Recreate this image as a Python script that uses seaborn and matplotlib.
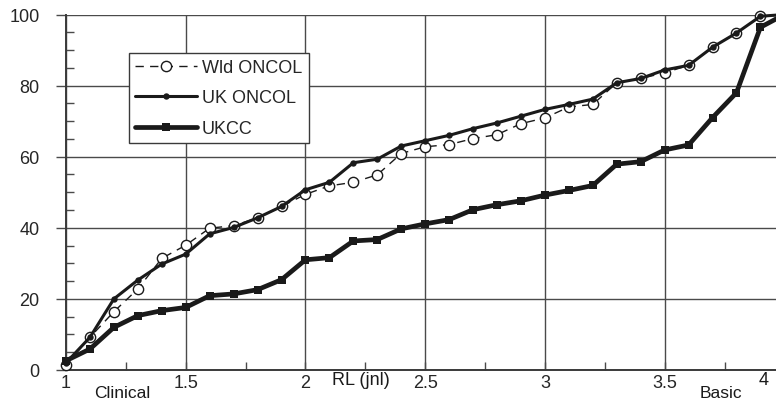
import matplotlib
matplotlib.use("Agg")
import matplotlib.pyplot as plt
import matplotlib.transforms as mtransforms
from matplotlib.ticker import MultipleLocator
import seaborn as sns
import pandas as pd

# Cumulative percentage of journals against research level (1 = clinical, 4 = basic)
research_level = [1.0, 1.1, 1.2, 1.3, 1.4, 1.5, 1.6, 1.7, 1.8, 1.9,
                  2.0, 2.1, 2.2, 2.3, 2.4, 2.5, 2.6, 2.7, 2.8, 2.9,
                  3.0, 3.1, 3.2, 3.3, 3.4, 3.5, 3.6, 3.7, 3.8, 3.9, 4.0]
wld_oncol = [1.5, 9.2, 16.4, 22.8, 31.4, 35.1, 39.9, 40.6, 42.8, 46.0,
             49.4, 51.8, 52.8, 54.9, 60.9, 62.8, 63.4, 65.1, 66.2, 69.3,
             70.9, 74.0, 74.7, 80.8, 82.0, 83.6, 85.7, 90.8, 94.8, 99.5, 100.0]
uk_oncol = [2.0, 9.2, 20.0, 25.3, 29.8, 32.6, 38.3, 40.1, 42.8, 46.0,
            50.7, 52.8, 58.3, 59.3, 63.0, 64.5, 66.0, 67.9, 69.5, 71.4,
            73.3, 74.7, 76.2, 80.8, 82.0, 84.4, 85.7, 90.8, 94.8, 99.5, 100.0]
ukcc = [2.6, 5.9, 12.0, 15.3, 16.7, 17.6, 20.9, 21.4, 22.6, 25.4,
        31.0, 31.6, 36.3, 36.7, 39.7, 41.1, 42.3, 45.1, 46.5, 47.6,
        49.2, 50.5, 51.9, 57.9, 58.6, 61.9, 63.3, 71.0, 78.0, 96.4, 100.0]

x_ticks = [1.0, 1.5, 2.0, 2.5, 3.0, 3.5]
x_tick_labels = ["1", "1.5", "2", "2.5", "3", "3.5"]
y_ticks = [0, 20, 40, 60, 80, 100]
x_end_label = "4"
region_labels = ["Clinical", "RL (jnl)", "Basic"]
region_positions = [1.234, 2.23, 3.735]

df = pd.DataFrame({"RL": research_level, "Wld ONCOL": wld_oncol,
                   "UK ONCOL": uk_oncol, "UKCC": ukcc})

sns.set_theme(style="white")
plt.rcParams["font.family"] = ["Liberation Sans", "DejaVu Sans"]
plt.rcParams["font.size"] = 13

fig = plt.figure(figsize=(7.76, 4.10), dpi=100)
ax = fig.add_axes([66 / 776, (410 - 371) / 410, (776 - 66) / 776, (371 - 15.5) / 410])

ink = "#1a1a1a"
grid_c = "#4a4a4a"

sns.lineplot(data=df, x="RL", y="Wld ONCOL", ax=ax, label="Wld ONCOL",
             color=ink, linewidth=1.0, linestyle=(0, (6, 4.5)),
             marker="o", markersize=7.4, markerfacecolor="white",
             markeredgecolor=ink, markeredgewidth=1.0, clip_on=False, zorder=3)
sns.lineplot(data=df, x="RL", y="UK ONCOL", ax=ax, label="UK ONCOL",
             color=ink, linewidth=2.2, marker="o", markersize=4.6,
             markeredgewidth=0, clip_on=False, zorder=4)
sns.lineplot(data=df, x="RL", y="UKCC", ax=ax, label="UKCC",
             color=ink, linewidth=3.4, marker="s", markersize=5.6,
             markeredgewidth=0, clip_on=False, zorder=5)

ax.set_xlim(1.0, 3.965)
ax.set_ylim(0, 100)
ax.set_xlabel("")
ax.set_ylabel("")

ax.set_xticks(x_ticks)
ax.set_xticklabels(x_tick_labels)
ax.set_yticks(y_ticks)
ax.xaxis.set_minor_locator(MultipleLocator(0.25))
ax.yaxis.set_minor_locator(MultipleLocator(5))

ax.tick_params(axis="y", which="major", direction="out", length=7, width=1.0,
               color=grid_c, pad=12, labelsize=13, left=True)
ax.tick_params(axis="y", which="minor", direction="in", length=6, width=1.0,
               color=grid_c, left=True)
ax.tick_params(axis="x", which="major", direction="in", length=6, width=1.0,
               color=grid_c, pad=3, labelsize=13, bottom=True)
ax.tick_params(axis="x", which="minor", direction="in", length=6, width=1.0,
               color=grid_c, bottom=True)

ax.grid(True, which="major", color=grid_c, linewidth=1.0)
ax.set_axisbelow(True)

for side in ("top", "right"):
    ax.spines[side].set_visible(False)
for side in ("left", "bottom"):
    ax.spines[side].set_color("#3a3a3a")
    ax.spines[side].set_linewidth(1.4)

# Labels along the research-level axis
trans = mtransforms.blended_transform_factory(ax.transData, ax.transAxes)
for lab, pos in zip(region_labels, region_positions):
    yoff = -0.028 if lab.startswith("RL") else -0.063
    ax.text(pos, yoff, lab, transform=trans, ha="center", va="center",
            fontsize=12.5 if lab != "RL (jnl)" else 13, color=ink, clip_on=False)
ax.text(3.914, -0.028, x_end_label, transform=trans, ha="center", va="center",
        fontsize=13, color=ink, clip_on=False)

leg = ax.legend(loc="upper left", bbox_to_anchor=(0.0887, 0.893),
                borderaxespad=0, frameon=True, fancybox=False,
                handlelength=3.4, handletextpad=0.3, labelspacing=0.75,
                borderpad=0.35, fontsize=13)
leg.get_frame().set_edgecolor("#3a3a3a")
leg.get_frame().set_linewidth(1.0)
leg.get_frame().set_facecolor("white")
leg.get_frame().set_alpha(1.0)

fig.savefig("out.png", dpi=100)
